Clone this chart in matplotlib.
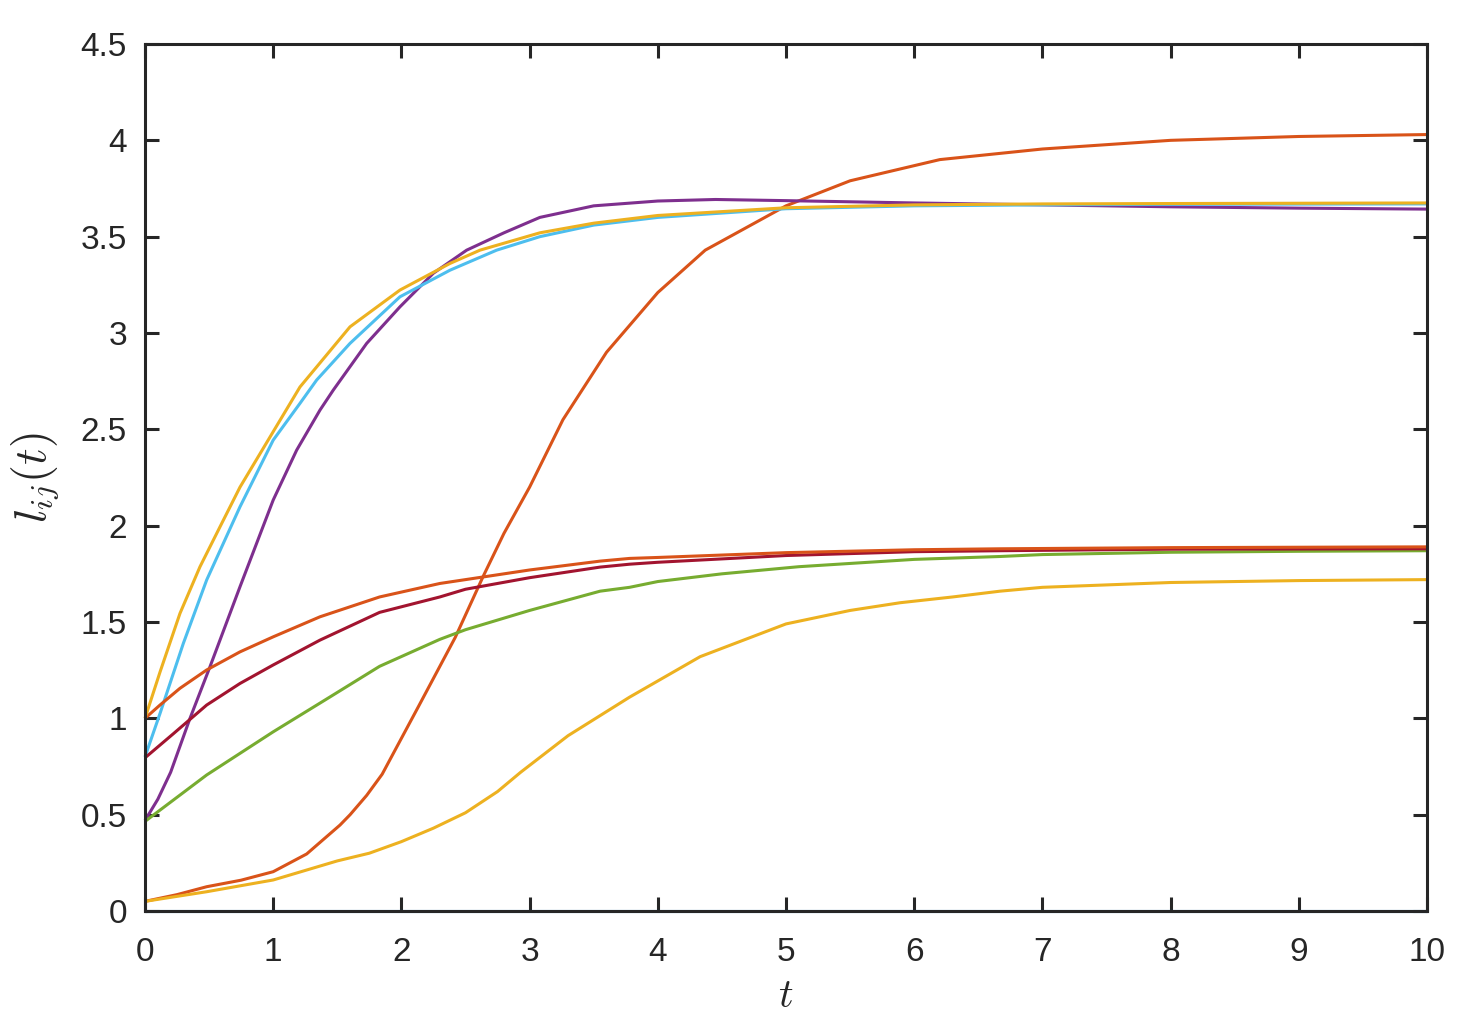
import matplotlib
matplotlib.use("Agg")
import matplotlib.pyplot as plt

plt.rcParams['font.family'] = ['Liberation Sans', 'DejaVu Sans']
plt.rcParams['mathtext.fontset'] = 'cm'

# MATLAB default colours
C_BLUE = (0.0, 0.447, 0.741)
C_ORANGE = (0.850, 0.325, 0.098)
C_YELLOW = (0.929, 0.694, 0.125)
C_PURPLE = (0.494, 0.184, 0.556)
C_GREEN = (0.466, 0.674, 0.188)
C_LBLUE = (0.301, 0.745, 0.933)
C_DRED = (0.635, 0.078, 0.184)

# ---- data ----
t_zero = [0, 10]
v_zero = [0, 0]

t_sig_orange = [0, 0.25, 0.481, 0.75, 1.0, 1.261, 1.521, 1.6, 1.729, 1.85, 1.937, 2.132, 2.42, 2.64, 2.8, 3.0, 3.26, 3.6, 4.0, 4.37, 5.0, 5.5, 6.2, 7.0, 8.0, 9.0, 10.0]
v_sig_orange = [0.05, 0.085, 0.126, 0.16, 0.204, 0.296, 0.446, 0.50, 0.60, 0.71, 0.818, 1.06, 1.42, 1.74, 1.96, 2.20, 2.55, 2.90, 3.21, 3.43, 3.66, 3.79, 3.90, 3.955, 4.00, 4.02, 4.03]

t_sig_yellow = [0, 0.481, 1.0, 1.5, 1.75, 2.0, 2.25, 2.5, 2.75, 2.93, 3.3, 3.78, 4.33, 5.0, 5.5, 5.89, 6.3, 6.67, 7.0, 8.0, 9.0, 10.0]
v_sig_yellow = [0.05, 0.10, 0.161, 0.26, 0.30, 0.36, 0.43, 0.51, 0.62, 0.72, 0.91, 1.11, 1.32, 1.49, 1.56, 1.60, 1.63, 1.66, 1.68, 1.705, 1.715, 1.72]

t_purple = [0, 0.1, 0.2, 0.351, 0.507, 0.741, 1.0, 1.183, 1.365, 1.469, 1.729, 1.989, 2.249, 2.509, 2.8, 3.08, 3.5, 4.0, 4.45, 5.0, 6.0, 7.0, 8.0, 9.0, 10.0]
v_purple = [0.47, 0.58, 0.72, 1.0, 1.268, 1.683, 2.133, 2.392, 2.60, 2.704, 2.946, 3.136, 3.31, 3.43, 3.52, 3.60, 3.66, 3.685, 3.693, 3.687, 3.675, 3.665, 3.655, 3.648, 3.643]

t_green = [0, 0.481, 1.0, 1.404, 1.83, 2.3, 2.5, 3.0, 3.55, 3.78, 4.0, 4.5, 5.1, 6.0, 6.67, 7.0, 8.0, 9.0, 10.0]
v_green = [0.465, 0.706, 0.93, 1.095, 1.27, 1.41, 1.46, 1.56, 1.66, 1.68, 1.71, 1.75, 1.787, 1.825, 1.84, 1.85, 1.862, 1.867, 1.87]

t_lblue = [0, 0.117, 0.299, 0.481, 0.741, 1.0, 1.209, 1.339, 1.599, 1.989, 2.379, 2.743, 3.08, 3.5, 4.0, 5.0, 6.0, 7.0, 8.0, 10.0]
v_lblue = [0.80, 1.025, 1.389, 1.718, 2.098, 2.444, 2.635, 2.756, 2.946, 3.188, 3.326, 3.43, 3.50, 3.56, 3.60, 3.645, 3.66, 3.665, 3.668, 3.67]

t_dred = [0, 0.221, 0.481, 0.741, 1.0, 1.365, 1.83, 2.3, 2.5, 3.0, 3.55, 3.78, 4.0, 5.0, 6.0, 6.67, 8.0, 10.0]
v_dred = [0.795, 0.92, 1.069, 1.181, 1.277, 1.406, 1.55, 1.63, 1.67, 1.73, 1.785, 1.80, 1.81, 1.845, 1.865, 1.87, 1.878, 1.88]

t_orange2 = [0, 0.117, 0.273, 0.481, 0.741, 1.0, 1.365, 1.83, 2.3, 2.5, 3.0, 3.55, 3.78, 4.0, 5.0, 6.0, 6.67, 8.0, 10.0]
v_orange2 = [1.00, 1.069, 1.156, 1.251, 1.345, 1.423, 1.527, 1.63, 1.70, 1.72, 1.77, 1.816, 1.83, 1.835, 1.86, 1.875, 1.88, 1.886, 1.89]

t_yellow2 = [0, 0.117, 0.273, 0.429, 0.585, 0.741, 0.975, 1.209, 1.599, 1.989, 2.379, 2.613, 3.08, 3.5, 4.0, 5.0, 6.0, 7.0, 8.0, 10.0]
v_yellow2 = [1.00, 1.24, 1.545, 1.787, 1.994, 2.20, 2.46, 2.72, 3.032, 3.223, 3.361, 3.43, 3.52, 3.57, 3.61, 3.65, 3.665, 3.67, 3.672, 3.675]

x_ticks = list(range(0, 11))
y_ticks = [0, 0.5, 1, 1.5, 2, 2.5, 3, 3.5, 4, 4.5]
y_ticklabels = ['0', '0.5', '1', '1.5', '2', '2.5', '3', '3.5', '4', '4.5']

# ---- figure ----
fig = plt.figure(figsize=(14.57, 10.34), dpi=100)
ax = fig.add_axes([145/1457, 1 - 911/1034, (1427-145)/1457, (911-44)/1034])

lw = 2.2
series = [
    (t_zero, v_zero, C_BLUE),
    (t_sig_orange, v_sig_orange, C_ORANGE),
    (t_sig_yellow, v_sig_yellow, C_YELLOW),
    (t_purple, v_purple, C_PURPLE),
    (t_green, v_green, C_GREEN),
    (t_lblue, v_lblue, C_LBLUE),
    (t_dred, v_dred, C_DRED),
    (t_zero, v_zero, C_BLUE),
    (t_orange2, v_orange2, C_ORANGE),
    (t_yellow2, v_yellow2, C_YELLOW),
]
for tt, vv, c in series:
    ax.plot(tt, vv, color=c, lw=lw, clip_on=False,
            solid_joinstyle='round', solid_capstyle='butt')

ax.set_xlim(0, 10)
ax.set_ylim(0, 4.5)
ax.set_xticks(x_ticks)
ax.set_xticklabels([str(x) for x in x_ticks])
ax.set_yticks(y_ticks)
ax.set_yticklabels(y_ticklabels)

for s in ax.spines.values():
    s.set_linewidth(2.2)
    s.set_color('#262626')
ax.tick_params(direction='in', length=10, width=2.2, colors='#262626',
               top=True, right=True, labelsize=24)
ax.tick_params(axis='x', pad=19)
ax.tick_params(axis='y', pad=13)

ax.set_xlabel('$t$', fontsize=29, labelpad=6, color='#262626')
ax.set_ylabel('$l_{ij}(t)$', fontsize=33, labelpad=14, color='#262626')

fig.savefig('out.png', dpi=100, facecolor='white')
